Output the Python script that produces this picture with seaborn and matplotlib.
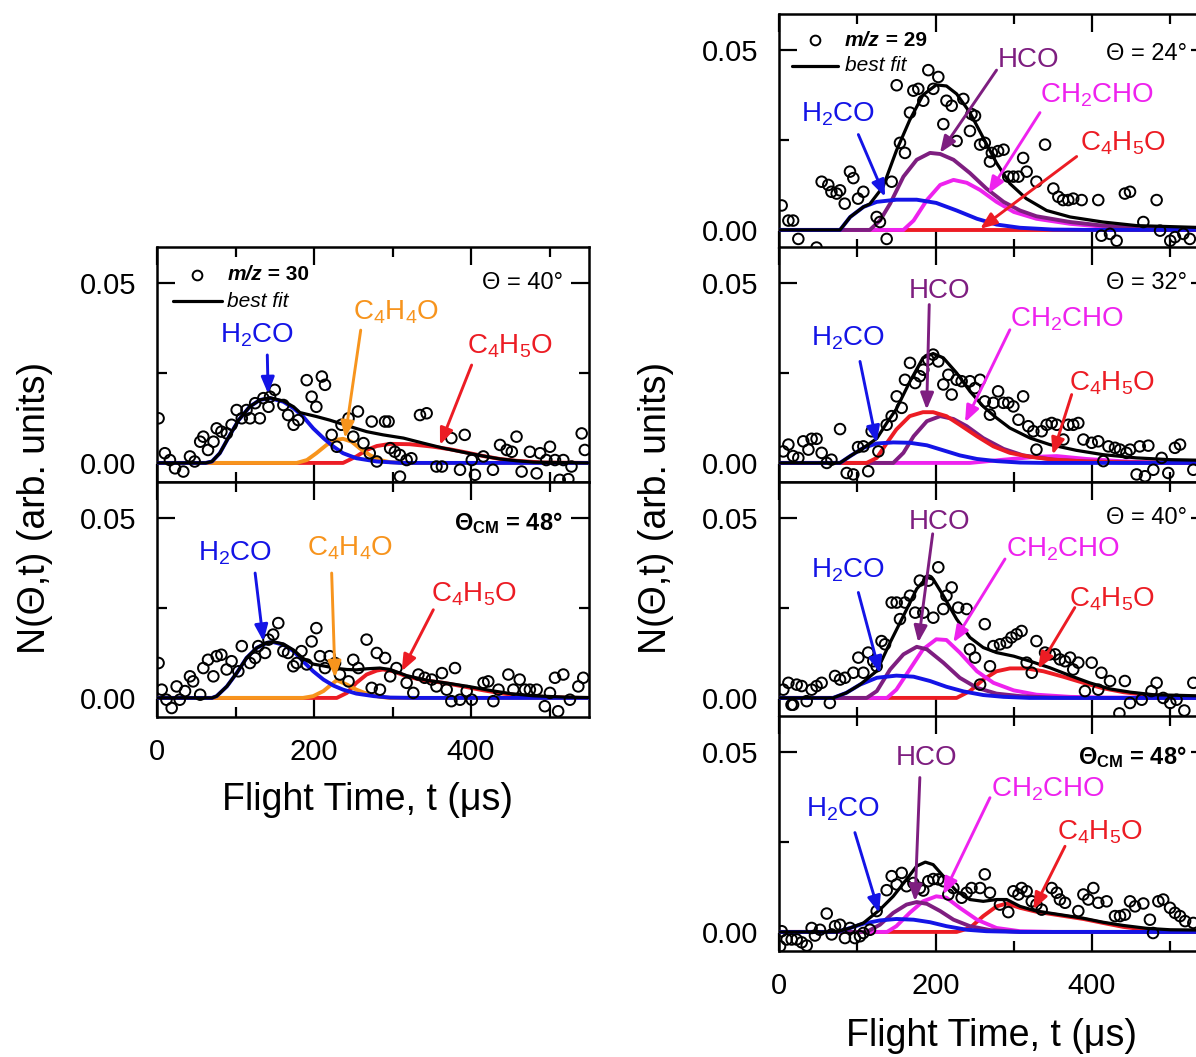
import numpy as np
import matplotlib
matplotlib.use("Agg")
import matplotlib.pyplot as plt
from matplotlib.ticker import FixedLocator, FormatStrFormatter
import seaborn as sns

# ---------------------------------------------------------------------------
# Time-of-flight spectra.  Each entry is (flight time in microseconds,
# signal N(theta, t) in units of 1e-3).
# ---------------------------------------------------------------------------

# m/z = 30, Theta = 40 deg
circles_30_40 = [(2, 12.4), (10, 2.7), (16.5, 0.8), (23, -1.5), (33.5, -2.4), (42, 1.8), (48, 0.4),
                 (55, 5.9), (59, 7.3), (65, 3.6), (72, 5.9), (76, 9.6), (82, 8.7), (89, 8.2), (95, 10.6),
                 (101.5, 14.7), (108, 12.4), (114, 14.7), (118.5, 12.4), (125, 16.6), (131, 12.4),
                 (135.5, 18.0), (142, 15.6), (144, 18.4), (150, 20.3), (161, 16.1), (167, 13.3), (174, 10.6),
                 (180, 11.9), (190.7, 23.0), (197, 18.4), (203, 15.6), (210, 24.0), (214, 21.7), (222.5, 7.8),
                 (229, 4.5), (235, 10.6), (244, 12.4), (250, 7.3), (256, 14.3), (263, 5.5), (271, 2.7),
                 (273.5, 11.5), (280, 0.4), (290.5, 11.5), (295, 11.5), (297, 4.1), (303, 3.1), (309.5, 2.2),
                 (309.5, -3.8), (318, 0.8), (324, 1.3), (335, 13.3), (343.5, 13.8), (356, -1.0), (363, -1.0),
                 (375, 6.9), (386, -1.9), (392, 7.8), (401, 0.8), (405, -3.3), (415.7, 1.8), (428, -1.9),
                 (437, 5.0), (445.5, 3.6), (452, 3.1), (458, 7.3), (464.5, -2.4), (475, 3.1), (483.6, -2.9),
                 (488, 2.7), (496, 0.8), (500.6, 4.5), (507, 0.8), (513, -4.7), (517.6, 0.8), (524, -4.5),
                 (528, -1.0), (541, 8.2), (545, 3.6)]
fit_30_40 = [(0, 0), (62, 0), (70, 0.4), (80, 2.7), (93, 7.8), (104, 11.9), (118, 15.6), (131, 17.5),
             (144, 18.1), (161, 17.2), (174, 15.6), (182, 14.0), (203, 12.9), (220, 11.9), (233, 11.0),
             (246, 10.1), (267, 8.7), (288, 7.8), (314, 6.9), (339, 5.5), (365, 4.1), (394, 2.8), (416, 1.9),
             (437, 1.1), (458, 0.6), (480, 0.2), (550, 0)]
h2co_30_40 = [(0, 0), (62, 0), (70, 0.4), (80, 2.7), (93, 7.8), (104, 11.9), (118, 15.6), (131, 17.5),
              (144, 18.0), (161, 17.0), (174, 15.2), (186, 12.9), (199, 9.6), (212, 6.9), (225, 4.5),
              (237, 2.7), (254, 1.3), (280, 0.4), (310, 0), (550, 0)]
c4h4o_30_40 = [(0, 0), (178, 0), (191, 0.8), (203, 2.7), (216, 5.0), (227, 6.4), (237, 6.7), (248, 5.9),
               (258, 4.1), (271, 2.2), (284, 0.8), (297, 0.2), (320, 0), (550, 0)]
c4h5o_30_40 = [(0, 0), (237, 0), (254, 1.8), (267, 3.6), (280, 4.7), (297, 5.3), (322, 5.2), (352, 4.5),
               (373, 3.8), (394, 2.9), (416, 1.9), (437, 1.1), (458, 0.6), (492, 0.1), (550, 0)]

# m/z = 30, Theta_CM = 48 deg
circles_30_48 = [(2, 9.7), (6, 2.3), (12, -0.5), (18.7, -2.8), (25, 3.2), (29, -0.5), (35.7, 1.9), (42, 6.0),
                 (46, 4.6), (55, 0.9), (59, 8.3), (65, 10.6), (71.8, 6.0), (76, 11.6), (82, 12.0), (88.7, 7.9),
                 (95, 10.2), (103.6, 7.4), (108, 14.4), (118.5, 9.7), (125, 11.1), (129, 14.4), (137.6, 12.5),
                 (142, 16.2), (148, 17.6), (154.5, 20.8), (161, 13.0), (167, 12.5), (173.6, 8.8), (178, 9.7),
                 (184, 13.0), (190.7, 9.3), (197, 15.7), (203, 19.4), (207.6, 11.6), (214, 8.3), (220, 11.6),
                 (226.8, 9.7), (233, 6.5), (244, 4.6), (250, 10.6), (256.5, 8.3), (267, 16.2), (273.5, 2.8),
                 (280, 12.5), (284, 2.3), (290.5, 11.1), (297, 6.0), (305, 8.3), (318, 4.2), (326.5, 1.4),
                 (333, 6.5), (341, 5.6), (350, 5.1), (356, 3.2), (363, 6.9), (369, 2.3), (375, -0.9),
                 (379.6, 8.3), (386, -0.5), (394.5, 1.9), (401, -0.5), (416, 4.2), (422, 4.6), (428.5, -0.9),
                 (435, 2.3), (447.6, 6.5), (454, 2.3), (462, 5.1), (468.8, 2.3), (475, 2.3), (483.6, 2.3),
                 (494, -2.3), (500.6, 1.4), (507, 5.6), (511, -3.7), (517.6, 6.5), (526, -0.5), (536.7, 3.2),
                 (543, 5.6)]
fit_30_48 = [(0, 0), (70, 0), (76, 0.5), (89, 3.2), (101.5, 6.9), (114, 11.1), (127, 13.9), (140, 15.4),
             (148, 15.6), (161, 15.0), (174, 13.3), (186, 11.0), (199, 9.4), (212, 8.9), (229, 8.2),
             (242, 7.9), (254, 7.8), (267, 8.1), (284, 8.3), (297, 7.9), (318, 6.2), (344, 4.9), (373, 4.0),
             (399, 3.1), (424, 2.1), (450, 1.2), (479, 0.6), (522, 0.2), (550, 0.1)]
h2co_30_48 = [(0, 0), (70, 0), (76, 0.5), (89, 3.2), (101.5, 6.9), (114, 11.1), (127, 13.9), (140, 15.3),
              (148, 15.5), (161, 14.8), (174, 13.0), (186, 10.2), (199, 7.4), (212, 5.1), (225, 3.4),
              (237, 2.3), (254, 1.2), (276, 0.5), (297, 0.1), (330, 0), (550, 0)]
c4h4o_30_48 = [(0, 0), (186, 0), (199, 0.5), (212, 1.9), (222, 3.7), (229, 4.9), (242, 3.7), (254, 2.3),
               (267, 1.2), (284, 0.3), (297, 0), (550, 0)]
c4h5o_30_48 = [(0, 0), (229, 0), (242, 1.4), (254, 4.2), (267, 6.5), (280, 7.6), (288, 7.9), (301, 7.4),
               (318, 6.0), (339, 4.9), (365, 4.2), (390, 3.2), (416, 2.1), (441, 1.2), (467, 0.6), (500, 0.2),
               (540, 0), (550, 0)]

# m/z = 29, Theta = 24 deg
circles_29_24 = [(3.4, 6.8), (12, 2.6), (18, 2.6), (24.7, -2.5), (48, -4.9), (54.5, 13.4), (63, 12.5),
                 (67, 10.6), (73.7, 10.1), (78, 11.0), (84, 7.3), (90.7, 16.2), (95, 14.4), (101, 8.7),
                 (107.8, 10.6), (124.8, 3.6), (129, 2.2), (137.6, -2.5), (144, 13.4), (150.4, 40.2), (154.6, 24.2),
                 (161, 21.4), (167.4, 32.6), (171.7, 38.7), (178, 39.2), (184.4, 35.9), (190.8, 44.4),
                 (197.2, 39.2), (203.6, 42.5), (210, 29.4), (214, 35.9), (220.7, 34.5), (227, 24.7),
                 (235.6, 36.4), (244, 27.5), (246, 32.2), (250.5, 31.7), (257, 23.7), (263, 24.2), (269.6, 19.0),
                 (272, 21.4), (280, 21.9), (287, 22.3), (293, 14.8), (299.5, 14.8), (306, 14.8), (312, 20.0),
                 (316.5, 16.2), (329, 13.4), (340, 23.7), (350.6, 11.5), (357, 9.2), (363, 8.3), (369.7, 8.3),
                 (376, 8.7), (386.8, 8.3), (408, 8.3), (412, -1.6), (423, -1.1), (431.5, -3.0), (442, 10.1),
                 (448.6, 10.6), (465.6, 2.2), (482.6, 8.3), (487, -0.2), (500, -3.0), (506, -2.0),
                 (516.7, -1.1), (525, -2.5)]
fit_29_24 = [(0, 0), (78, 0), (91, 3.6), (108, 6.4), (116, 7.2), (133, 12.0), (150, 22.0), (167, 30.5),
             (184, 37.5), (201, 40.3), (214, 40.0), (227, 37.8), (244, 32.6), (261, 25.6), (278, 18.6),
             (295, 12.9), (316, 8.7), (342, 5.4), (372, 3.6), (414, 2.2), (457, 1.2), (550, 0.6)]
h2co_29_24 = [(0, 0), (78, 0), (91, 3.6), (108, 6.4), (125, 7.8), (150, 8.4), (176, 8.4), (201, 7.5),
              (227, 5.4), (253, 3.1), (278, 1.5), (308, 0.6), (350, 0.1), (400, 0), (550, 0)]
hco_29_24 = [(0, 0), (116, 0), (129, 2.6), (142, 7.3), (159, 14.8), (176, 19.5), (193, 21.4), (206, 21.1),
             (223, 19.5), (244, 15.8), (265, 11.5), (287, 7.8), (308, 5.4), (329, 3.8), (372, 2.2),
             (414, 1.2), (457, 0.6), (550, 0.2)]
ch2cho_29_24 = [(0, 0), (159, 0), (172, 2.6), (189, 8.3), (206, 12.5), (223, 13.9), (240, 13.1), (257, 11.1),
                (278, 7.8), (300, 5.0), (329, 3.1), (372, 1.7), (414, 0.9), (457, 0.5), (550, 0.2)]
c4h5o_29_24 = [(0, 0), (550, 0)]

# m/z = 29, Theta = 32 deg
circles_29_32 = [(5.5, 3.2), (12, 5.1), (18, 1.9), (24.7, 1.4), (31, 6.0), (37.6, 3.7), (41.7, 6.7), (48, 6.7),
                 (54.5, 2.8), (61, 0), (67, 0.9), (78, 9.4), (86.5, -2.8), (95, -3.2), (101, 4.4), (107.8, 4.6),
                 (114, -2.3), (118.4, 8.8), (127, 3.2), (137.6, 10.6), (144, 13.0), (150.4, 18.5), (156.8, 15.3),
                 (161, 23.1), (167.4, 27.8), (174, 22.2), (180, 24.1), (184.4, 25.9), (190.8, 28.7), (197, 30.1),
                 (203.6, 28.2), (210, 21.8), (216.4, 24.5), (220.7, 19.0), (227, 23.1), (233.4, 22.7),
                 (244, 22.7), (250.5, 20.8), (257, 23.1), (263, 17.1), (269.6, 13.4), (274, 16.7), (280, 19.9),
                 (286.7, 16.7), (293, 16.7), (299.5, 15.7), (306, 12.0), (312, 18.5), (318.6, 10.2), (325, 8.8),
                 (329, 3.7), (335.7, 8.8), (342, 10.6), (348.5, 11.1), (355, 10.6), (363.4, 6.5), (369.7, 10.6),
                 (376, 10.6), (382.5, 11.1), (389, 6.5), (399.6, 5.6), (408, 6.0), (414.5, 0.5), (421, 4.6),
                 (429.4, 4.2), (435.8, 3.7), (444, 2.8), (448.6, 3.7), (457, -3.2), (461, 4.6), (467.7, -3.7),
                 (472, 4.8), (478.4, -1.9), (489, 1.4), (497.5, -2.8), (506, 4.2), (512.5, 5.1), (529.5, -1.9)]
fit_29_32 = [(0, 0), (78, 0), (91, 1.9), (108, 4.2), (125, 6.8), (138, 11.2), (150, 15.0), (167, 22.5),
             (184, 29.2), (197, 30.4), (210, 29.2), (227, 25.0), (244, 19.9), (261, 15.7), (278, 12.5),
             (295, 9.7), (321, 6.9), (346, 5.1), (380, 3.5), (414, 2.3), (457, 1.4), (500, 0.9), (550, 0.7)]
h2co_29_32 = [(0, 0), (78, 0), (91, 1.9), (108, 4.2), (125, 5.4), (146, 5.7), (167, 5.6), (189, 4.9),
              (210, 3.5), (231, 2.1), (253, 1.1), (278, 0.5), (308, 0.1), (340, 0), (550, 0)]
hco_29_32 = [(0, 0), (146, 0), (159, 2.8), (172, 7.4), (189, 11.6), (206, 13.0), (223, 12.2), (240, 10.2),
             (261, 6.9), (287, 3.9), (312, 2.1), (351, 0.9), (393, 0.4), (457, 0.1), (550, 0)]
ch2cho_29_32 = [(0, 0), (244, 0), (287, 0.9), (329, 1.7), (355, 1.9), (393, 1.1), (436, 0.5), (478, 0.1),
                (550, 0)]
c4h5o_29_32 = [(0, 0), (112, 0), (125, 1.4), (138, 5.6), (150, 9.3), (167, 13.0), (184, 14.1), (197, 14.1),
               (214, 13.0), (231, 10.6), (253, 7.4), (274, 4.6), (295, 2.8), (321, 1.7), (351, 0.9),
               (393, 0.4), (457, 0.1), (550, 0)]

# m/z = 29, Theta = 40 deg
circles_29_40 = [(5.5, 2.3), (12, 4.2), (16, -1.9), (18, -1.9), (22.6, 3.7), (29, 3.3), (35.4, -0.9), (41.7, 2.3),
                 (48, 3.3), (54.5, 4.2), (65, -1.4), (71.6, 6.1), (78, 5.1), (84.3, 5.6), (95, 7.0),
                 (101.4, 11.2), (107.8, 7.0), (114, 12.6), (120.5, 10.2), (124.8, 8.8), (131, 15.8),
                 (135.5, 14.9), (144, 26.5), (150.4, 26.5), (154.6, 21.9), (161, 26.5), (167.4, 28.4),
                 (174, 23.7), (180, 32.6), (184.4, 23.7), (190.8, 32.6), (197.2, 22.3), (203.6, 36.3),
                 (210, 24.7), (214, 28.4), (220.7, 30.7), (229, 25.1), (239.8, 24.7), (244, 13.5), (250.5, 11.2),
                 (257, 3.7), (263, 20.5), (269.6, 8.8), (274, 14.4), (282.4, 14.9), (291, 15.4), (297, 16.8),
                 (303.7, 17.7), (310, 18.6), (316.5, 9.8), (323, 7.0), (329, 15.8), (340, 12.6), (346, 12.1),
                 (352.8, 12.1), (359, 10.7), (365.5, 10.2), (372, 11.2), (376, 7.9), (382.5, 9.8), (391, 1.9),
                 (399.6, 9.8), (408, 2.3), (412, 7.0), (423, 4.7), (435, -4.3), (442, 4.7), (448.6, -1.4),
                 (463.5, -0.5), (476, 1.9), (482.6, 4.2), (491, 0), (500, -1.4), (508, -0.5), (518, -3.5),
                 (529.5, 4.2)]
fit_29_40 = [(0, 0), (69, 0), (86, 1.4), (103.5, 3.7), (125, 7.5), (142, 15.4), (159, 22.8), (176, 30.3),
             (189, 33.5), (197, 33.0), (210, 28.4), (227, 21.9), (244, 16.8), (261, 14.0), (278, 12.6),
             (300, 11.6), (321, 10.2), (346, 8.4), (372, 6.2), (397, 4.2), (423, 2.5), (449, 1.6), (478, 0.9),
             (550, 0.5)]
h2co_29_40 = [(0, 0), (69, 0), (86, 1.4), (103.5, 3.7), (125, 5.6), (150, 6.2), (172, 5.9), (193, 4.7),
              (214, 3.1), (236, 1.8), (261, 0.8), (287, 0.3), (320, 0), (550, 0)]
hco_29_40 = [(0, 0), (112, 0), (125, 1.9), (142, 7.9), (159, 12.1), (176, 14.2), (189, 13.5), (210, 9.8),
             (231, 5.6), (253, 2.8), (278, 1.2), (308, 0.5), (350, 0.1), (400, 0), (550, 0)]
ch2cho_29_40 = [(0, 0), (138, 0), (150, 2.3), (167, 7.9), (184, 13.5), (201, 16.3), (214, 16.1), (231, 12.6),
                (253, 7.4), (274, 4.2), (300, 2.1), (329, 0.9), (372, 0.3), (414, 0.1), (550, 0)]
c4h5o_29_40 = [(0, 0), (227, 0), (244, 1.9), (261, 5.1), (278, 7.4), (295, 8.2), (316, 8.2), (338, 7.4),
               (363, 5.9), (389, 4.2), (414, 2.7), (440, 1.6), (470, 0.8), (500, 0.4), (550, 0.2)]

# m/z = 29, Theta_CM = 48 deg
circles_29_48 = [(1.3, -4.0), (3.4, 0.2), (9.8, -2.1), (16.2, -2.1), (22.6, -2.1), (29, -2.9), (35.4, -3.8),
                 (41.7, 1.1), (46, -1.0), (52.4, 0.6), (61, 5.1), (67.3, -0.7), (71.6, 1.6), (78, 2.0),
                 (84.3, -1.7), (90.7, 1.1), (97, -1.7), (103.5, -1.2), (107.8, -0.3), (116.3, 0.6),
                 (124.8, 5.8), (137.6, 11.6), (144, 15.5), (150.4, 13.2), (156.8, 16.4), (163, 12.7),
                 (171.7, 13.6), (180, 12.2), (184.4, 11.5), (190.8, 14.1), (197.2, 14.7), (203.6, 14.6),
                 (210, 14.1), (216.4, 10.4), (222.8, 12.2), (233.4, 9.5), (239.8, 10.9), (246, 12.2),
                 (257, 12.2), (263, 16.0), (269.6, 10.9), (282.4, 7.6), (293, 5.5), (299.5, 11.3), (306, 10.4),
                 (310, 12.2), (316.5, 11.3), (323, 8.5), (329, 7.6), (335.7, 6.2), (348.5, 12.2), (355, 10.9),
                 (359, 9.0), (365.5, 8.1), (382.5, 5.8), (389, 10.4), (395.3, 9.0), (401.7, 12.2), (408, 8.1),
                 (418.7, 8.5), (429.4, 4.4), (435.8, 4.4), (442, 4.8), (448.6, 8.5), (455, 7.1), (465.6, 7.9),
                 (474, 3.4), (478, -0.3), (484.8, 8.5), (491, 9.0), (499.7, 6.7), (506, 5.3), (512.5, 4.4),
                 (519, 3.0), (529.5, 2.5)]
fit_29_48 = [(0, 0), (74, 0), (91, 1.1), (108, 2.5), (129, 6.2), (146, 9.9), (163, 14.6), (176, 18.3),
             (187, 19.4), (197, 18.7), (210, 15.5), (227, 11.3), (244, 9.0), (261, 8.5), (278, 9.0), (291, 9.0),
             (308, 7.1), (329, 5.8), (359, 4.8), (389, 3.8), (414, 2.7), (440, 1.8), (470, 1.0), (500, 0.6),
             (550, 0.5)]
h2co_29_48 = [(0, 0), (74, 0), (91, 1.1), (108, 2.3), (129, 3.2), (150, 3.6), (172, 3.4), (193, 2.7),
              (214, 1.6), (240, 0.6), (265, 0.2), (308, 0), (550, 0)]
hco_29_48 = [(0, 0), (112, 0), (129, 2.0), (146, 5.3), (163, 7.6), (176, 8.3), (189, 7.8), (206, 5.8),
             (223, 3.4), (244, 1.6), (270, 0.5), (308, 0), (550, 0)]
ch2cho_29_48 = [(0, 0), (138, 0), (150, 1.6), (167, 5.3), (184, 8.5), (201, 9.9), (214, 9.5), (231, 6.7),
                (253, 3.4), (278, 1.1), (308, 0.2), (350, 0), (550, 0)]
c4h5o_29_48 = [(0, 0), (227, 0), (244, 1.1), (261, 4.4), (278, 7.1), (291, 7.9), (308, 6.7), (329, 5.6),
               (359, 4.6), (389, 3.6), (414, 2.5), (440, 1.4), (470, 0.6), (500, 0.3), (550, 0.1)]

# ---------------------------------------------------------------------------
# Styling
# ---------------------------------------------------------------------------
sns.set_theme(style="ticks")
plt.rcParams["font.family"] = ["Liberation Sans", "DejaVu Sans"]
plt.rcParams["mathtext.fontset"] = "custom"
plt.rcParams["mathtext.rm"] = "Liberation Sans"
plt.rcParams["mathtext.it"] = "Liberation Sans:italic"
plt.rcParams["mathtext.bf"] = "Liberation Sans:bold"
plt.rcParams["mathtext.default"] = "regular"
for key in ("text.color", "axes.labelcolor", "xtick.color", "ytick.color", "axes.edgecolor"):
    plt.rcParams[key] = "black"

BLUE = "#1414E6"
ORANGE = "#F7941D"
RED = "#EC1C24"
PURPLE = "#7E1E80"
MAGENTA = "#EE22EE"

FW, FH = 1196, 1057
fig = plt.figure(figsize=(FW / 100, FH / 100), dpi=100)

T_MAX = 550
Y_LIM = (-0.0053, 0.060)
PANEL_H = 235 / FH


def make_axes(x0_px, px_per_us, bottom_px):
    return fig.add_axes([x0_px / FW, (FH - bottom_px) / FH, T_MAX * px_per_us / FW, PANEL_H])


def split(pairs):
    arr = np.asarray(pairs, dtype=float)
    return arr[:, 0], arr[:, 1] * 1e-3


def style_axes(ax, show_xlabels):
    ax.set_xlim(0, T_MAX)
    ax.set_ylim(*Y_LIM)
    ax.xaxis.set_major_locator(FixedLocator([0, 200, 400]))
    ax.xaxis.set_minor_locator(FixedLocator([100, 300, 500]))
    ax.yaxis.set_major_locator(FixedLocator([0.0, 0.05]))
    ax.yaxis.set_minor_locator(FixedLocator([0.025]))
    ax.yaxis.set_major_formatter(FormatStrFormatter("%.2f"))
    ax.tick_params(which="both", direction="in", top=True, right=True, width=1.6, colors="black")
    ax.tick_params(which="major", length=13)
    ax.tick_params(which="minor", length=7.5)
    ax.tick_params(axis="x", which="major", labelsize=21, pad=15, labelbottom=show_xlabels)
    ax.tick_params(axis="y", which="major", labelsize=21, pad=15)
    for sp in ax.spines.values():
        sp.set_linewidth(1.8)
        sp.set_color("black")
    ax.set_xlabel("")
    ax.set_ylabel("")
    ax.set_facecolor("white")


def draw_panel(ax, circles, curves, fit):
    # components first (bottom of the stack), best fit and data on top
    for pairs, color in curves:
        t, v = split(pairs)
        sns.lineplot(x=t, y=v, ax=ax, color=color, lw=2.8, estimator=None, sort=False,
                     legend=False, zorder=3)
    t, v = split(fit)
    sns.lineplot(x=t, y=v, ax=ax, color="black", lw=2.3, estimator=None, sort=False,
                 legend=False, zorder=4)
    t, v = split(circles)
    sns.scatterplot(x=t, y=v, ax=ax, marker="o", s=58, color="black", facecolor="none",
                    edgecolor="black", linewidth=1.4, legend=False, zorder=5, clip_on=True)


def label(ax, text, color, xy_text, tail, head, size=20):
    ax.text(xy_text[0], xy_text[1] * 1e-3, text, color=color, fontsize=size,
            ha="center", va="center", zorder=6)
    ax.annotate("", xy=(head[0], head[1] * 1e-3), xytext=(tail[0], tail[1] * 1e-3),
                arrowprops=dict(arrowstyle="-|>,head_length=0.45,head_width=0.18", color=color,
                                lw=2.1, shrinkA=0, shrinkB=0, mutation_scale=22),
                zorder=6)


def angle_label(ax, text, bold=False, y=0.050, x=519):
    ax.text(x, y, text, fontsize=17, ha="right", va="center",
            fontweight="bold" if bold else "normal", color="black", zorder=6)


def legend_box(ax, mz, xc, yc, x_text, x_line, y_line):
    ax.plot([xc], [yc], marker="o", ms=7, mfc="none", mec="black", mew=1.4,
            transform=ax.transAxes, clip_on=False)
    t1 = ax.text(x_text, yc, "m/z", transform=ax.transAxes, fontsize=15,
                 fontweight="bold", fontstyle="italic", ha="left", va="center")
    ax.annotate(f" = {mz}", xy=(1, 0.5), xycoords=t1, fontsize=15, fontweight="bold",
                ha="left", va="center")
    ax.plot(x_line, [y_line, y_line], color="black", lw=2.3, transform=ax.transAxes,
            clip_on=False)
    ax.text(x_text, y_line, "best fit", transform=ax.transAxes, fontsize=15,
            fontstyle="italic", ha="left", va="center")


H2CO = r"H$_2$CO"
C4H4O = r"C$_4$H$_4$O"
C4H5O = r"C$_4$H$_5$O"
CH2CHO = r"CH$_2$CHO"
HCO = "HCO"

# ---------------------------------------------------------------------------
# Left column: m/z = 30
# ---------------------------------------------------------------------------
LX, LS = 157, 0.785
ax_l1 = make_axes(LX, LS, 482)
ax_l2 = make_axes(LX, LS, 717)

draw_panel(ax_l1, circles_30_40,
           [(c4h5o_30_40, RED), (c4h4o_30_40, ORANGE), (h2co_30_40, BLUE)], fit_30_40)
style_axes(ax_l1, False)
label(ax_l1, H2CO, BLUE, (127, 35.6), (140.5, 30.0), (141.6, 19.2))
label(ax_l1, C4H4O, ORANGE, (305, 42.0), (259.5, 36.9), (239.5, 6.9))
label(ax_l1, C4H5O, RED, (450, 32.3), (400.8, 27.2), (360.5, 5.0))
angle_label(ax_l1, "Θ = 40°", x=517)
legend_box(ax_l1, 30, 0.092, 0.881, 0.163, [0.038, 0.150], 0.77)

draw_panel(ax_l2, circles_30_48,
           [(c4h5o_30_48, RED), (c4h4o_30_48, ORANGE), (h2co_30_48, BLUE)], fit_30_48)
style_axes(ax_l2, True)
label(ax_l2, H2CO, BLUE, (100, 40.3), (125, 34.7), (135.5, 15.7))
label(ax_l2, C4H4O, ORANGE, (246, 41.7), (222.5, 34.7), (226.8, 5.6))
label(ax_l2, C4H5O, RED, (404, 28.7), (352, 24.5), (311.7, 7.4))
angle_label(ax_l2, r"$Θ_{CM}$ = 48°", bold=True, y=0.0485, x=517)

# ---------------------------------------------------------------------------
# Right column: m/z = 29
# ---------------------------------------------------------------------------
RX, RS = 779, 0.7825
ax_r1 = make_axes(RX, RS, 249)
ax_r2 = make_axes(RX, RS, 482)
ax_r3 = make_axes(RX, RS, 717)
ax_r4 = make_axes(RX, RS, 951)

draw_panel(ax_r1, circles_29_24,
           [(c4h5o_29_24, RED), (ch2cho_29_24, MAGENTA), (hco_29_24, PURPLE), (h2co_29_24, BLUE)],
           fit_29_24)
style_axes(ax_r1, False)
label(ax_r1, HCO, PURPLE, (318.6, 47.2), (278, 44.4), (205.7, 21.4))
label(ax_r1, CH2CHO, MAGENTA, (406, 37.3), (333.5, 32.6), (267.5, 10.1))
label(ax_r1, H2CO, BLUE, (75.8, 32.2), (101.4, 26.5), (135.5, 9.2))
label(ax_r1, C4H5O, RED, (440, 24.2), (380.4, 20.4), (257, 0.3))
angle_label(ax_r1, "Θ = 24°", y=0.049, x=521)
legend_box(ax_r1, 29, 0.0836, 0.889, 0.153, [0.0295, 0.138], 0.78)

draw_panel(ax_r2, circles_29_32,
           [(ch2cho_29_32, MAGENTA), (hco_29_32, PURPLE), (c4h5o_29_32, RED), (h2co_29_32, BLUE)],
           fit_29_32)
style_axes(ax_r2, False)
label(ax_r2, HCO, PURPLE, (205.7, 47.7), (192, 44.0), (188.7, 14.8))
label(ax_r2, CH2CHO, MAGENTA, (367.6, 39.8), (295, 37.0), (237.7, 11.3))
label(ax_r2, H2CO, BLUE, (88.6, 34.7), (103.5, 28.2), (124.8, 5.6))
label(ax_r2, C4H5O, RED, (425, 22.2), (374, 19.0), (349.7, 2.3))
angle_label(ax_r2, "Θ = 32°", x=521)

draw_panel(ax_r3, circles_29_40,
           [(c4h5o_29_40, RED), (ch2cho_29_40, MAGENTA), (hco_29_40, PURPLE), (h2co_29_40, BLUE)],
           fit_29_40)
style_axes(ax_r3, False)
label(ax_r3, HCO, PURPLE, (205.7, 48.9), (196.4, 45.6), (178, 15.4))
label(ax_r3, CH2CHO, MAGENTA, (363.4, 41.4), (288.8, 38.6), (222.8, 15.4))
label(ax_r3, H2CO, BLUE, (88.6, 35.4), (101.4, 29.3), (129, 6.8))
label(ax_r3, C4H5O, RED, (425, 27.5), (378, 25.1), (331, 8.1))
angle_label(ax_r3, "Θ = 40°", x=521)

draw_panel(ax_r4, circles_29_48,
           [(c4h5o_29_48, RED), (ch2cho_29_48, MAGENTA), (hco_29_48, PURPLE), (h2co_29_48, BLUE)],
           fit_29_48)
style_axes(ax_r4, True)
label(ax_r4, HCO, PURPLE, (188.7, 48.4), (180, 42.9), (173.8, 8.5))
label(ax_r4, CH2CHO, MAGENTA, (344, 39.6), (269.6, 37.3), (210, 10.4))
label(ax_r4, H2CO, BLUE, (82.2, 34.0), (97, 27.6), (128, 5.3))
label(ax_r4, C4H5O, RED, (410, 27.6), (365.5, 23.8), (325, 6.2))
angle_label(ax_r4, r"$Θ_{CM}$ = 48°", bold=True, y=0.0485, x=521)

# ---------------------------------------------------------------------------
# Shared axis titles
# ---------------------------------------------------------------------------
YLABEL = "N(Θ,t) (arb. units)"
XLABEL = "Flight Time, t (μs)"
fig.text(35 / FW, 1 - 508 / FH, YLABEL, rotation=90, fontsize=27, ha="center", va="center")
fig.text(656 / FW, 1 - 508 / FH, YLABEL, rotation=90, fontsize=27, ha="center", va="center")
fig.text(368 / FW, 1 - 800 / FH, XLABEL, fontsize=27, ha="center", va="center")
fig.text(992 / FW, 1 - 1036 / FH, XLABEL, fontsize=27, ha="center", va="center")

fig.savefig("out.png", dpi=100, facecolor="white")
